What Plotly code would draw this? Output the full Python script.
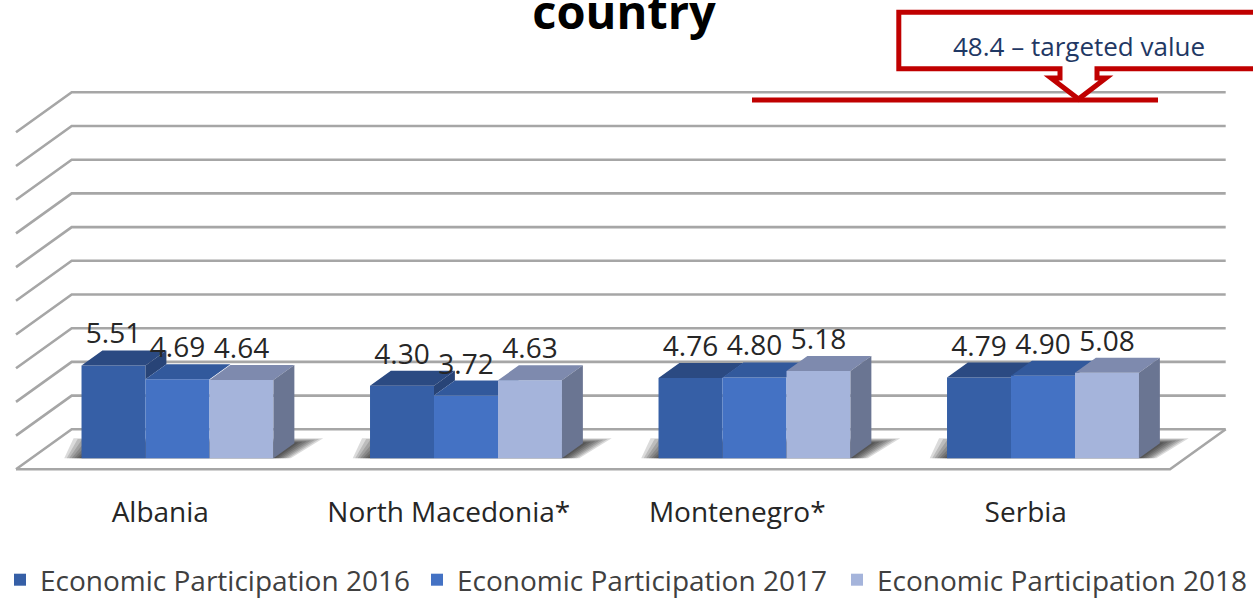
import plotly.graph_objects as go

# ---------------- data ----------------
categories = ["Albania", "North Macedonia*", "Montenegro*", "Serbia"]
series_names = ["Economic Participation 2016",
                "Economic Participation 2017",
                "Economic Participation 2018"]
ep_2016 = [5.51, 4.30, 4.76, 4.79]
ep_2017 = [4.69, 3.72, 4.80, 4.90]
ep_2018 = [4.64, 4.63, 5.18, 5.08]
y_ticks = [0, 2, 4, 6, 8, 10, 12, 14, 16, 18, 20]
title_text = "country"
target_label = "48.4 \u2013 targeted value"

series_values = [ep_2016, ep_2017, ep_2018]

# ---------------- styling / geometry ----------------
W, H = 1253, 599
FONT = "Open Sans"
front_colors = ["#365FA6", "#4472C4", "#A5B4DB"]
top_colors = ["#2B4A82", "#32599C", "#7E8AAE"]
side_colors = ["#284477", "#2E5190", "#6A7592"]
grid_color = "#a6a6a6"

# pixel calibration of the pseudo-3D axes
PX_X0, SLOT_PX = 16.0, 288.5      # front-left floor corner, width of one category slot
PX_Y0, UNIT_PX = 429.3, 16.85     # back-wall base, pixels per value unit
x_range = [(0 - PX_X0) / SLOT_PX, (W - PX_X0) / SLOT_PX]
y_range = [(PX_Y0 - H) / UNIT_PX, PX_Y0 / UNIT_PX]

DX = 55.7 / SLOT_PX               # full floor depth projected (x, slot units)
DY = 40.0 / UNIT_PX               # full floor depth projected (y, value units)
F_FRONT, F_BACK = 0.275, 0.65     # bar front/back depth fractions (from front)
BAR_W = 0.2218
GROUP_C = 0.5067

fx = F_FRONT * DX
base = -DY + F_FRONT * DY
ddx = (F_BACK - F_FRONT) * DX
ddy = (F_BACK - F_FRONT) * DY
n_cat = len(categories)
n_ser = len(series_values)

fig = go.Figure()

# ---------------- background: walls / floor gridlines ----------------
gx, gy = [], []
for t in y_ticks:
    gx += [0, DX, n_cat + DX, None]
    gy += [t - DY, t, t, None]
gx += [0, n_cat, n_cat + DX, None]
gy += [-DY, -DY, 0, None]
fig.add_trace(go.Scatter(x=gx, y=gy, mode="lines",
                         line=dict(color=grid_color, width=2.6),
                         hoverinfo="skip", showlegend=False,
                         xaxis="x", yaxis="y"))

# soft shadows under the column groups
n_layers = 7
for k in range(n_layers):
    e = 0.10 * (n_layers - k) / n_layers
    ey = 0.30 * (n_layers - k) / n_layers
    sx, sy = [], []
    for i in range(n_cat):
        xl = i + GROUP_C + fx - 1.5 * BAR_W
        xr = xl + 3 * BAR_W
        sx += [xl - e * 0.6, xr + e * 0.6, xr + ddx + e, xl + ddx - e,
               xl - e * 0.6, None]
        sy += [base, base, base + ddy + ey, base + ddy + ey, base, None]
    fig.add_trace(go.Scatter(x=sx, y=sy, mode="lines", fill="toself",
                             fillcolor="rgba(0,0,0,0.14)",
                             line=dict(width=0), hoverinfo="skip",
                             showlegend=False, xaxis="x", yaxis="y"))

# ---------------- columns (one overlaid subplot per series for painter order) ----
legend_ids = ["legend", "legend2", "legend3"]
for j, (name, vals) in enumerate(zip(series_names, series_values)):
    xa, ya = f"x{j + 2}", f"y{j + 2}"
    centers = [i + GROUP_C + fx + (j - 1) * BAR_W for i in range(n_cat)]
    fig.add_trace(go.Bar(x=centers, y=vals, base=base, width=BAR_W,
                         name=name, opacity=1,
                         marker=dict(color=front_colors[j], opacity=1,
                                     line=dict(width=0)),
                         xaxis=xa, yaxis=ya, showlegend=True,
                         legend=legend_ids[j],
                         hovertemplate="%{y:.2f}<extra>" + name + "</extra>"))
    tx, ty, sx, sy = [], [], [], []
    for i, (c, v) in enumerate(zip(centers, vals)):
        xl, xr, t = c - BAR_W / 2, c + BAR_W / 2, base + v
        tx += [xl, xr, xr + ddx, xl + ddx, xl, None]
        ty += [t, t, t + ddy, t + ddy, t, None]
        # right side face: only the part not hidden by the neighbouring column
        low = base if j == n_ser - 1 else base + series_values[j + 1][i]
        if low < t:
            sx += [xr, xr + ddx, xr + ddx, xr, xr, None]
            sy += [low, low + ddy, t + ddy, t, low, None]
    fig.add_trace(go.Scatter(x=tx, y=ty, mode="lines", fill="toself",
                             fillcolor=top_colors[j], line=dict(width=0),
                             hoverinfo="skip", showlegend=False,
                             xaxis=xa, yaxis=ya))
    if sx:
        fig.add_trace(go.Scatter(x=sx, y=sy, mode="lines", fill="toself",
                                 fillcolor=side_colors[j], line=dict(width=0),
                                 hoverinfo="skip", showlegend=False,
                                 xaxis=xa, yaxis=ya))

# data labels on the top-most layer
lx, ly, lt = [], [], []
for j, vals in enumerate(series_values):
    for i, v in enumerate(vals):
        lx.append(i + GROUP_C + fx + (j - 1) * BAR_W)
        ly.append(base + v + ddy)
        lt.append(f"{v:.2f}")
fig.add_trace(go.Scatter(x=lx, y=ly, text=lt, mode="text",
                         textposition="top center",
                         textfont=dict(family=FONT, size=28, color="#262626"),
                         hoverinfo="skip", showlegend=False,
                         xaxis="x4", yaxis="y4"))


def px(xp):
    return xp / W


def py(yp):
    return 1 - yp / H


front_edge_paper = (H - (PX_Y0 + DY * UNIT_PX)) / H

axis_common = dict(range=x_range, showgrid=False, zeroline=False,
                   fixedrange=True)
yaxis_common = dict(range=y_range, showgrid=False, zeroline=False,
                    visible=False, fixedrange=True)


def legend_at(x_px):
    return dict(orientation="h", x=px(x_px), xanchor="left",
                y=-6 / H, yanchor="bottom",
                font=dict(family=FONT, size=28, color="#404040"),
                bgcolor="rgba(0,0,0,0)")


layout = dict(
    width=W, height=H,
    margin=dict(l=0, r=0, t=0, b=0, pad=0, autoexpand=False),
    paper_bgcolor="white", plot_bgcolor="rgba(0,0,0,0)",
    barmode="group",
    font=dict(family=FONT, color="#404040"),
    title=dict(text=f"<b>{title_text}</b>",
               font=dict(family=FONT, size=47, color="black"),
               x=624 / W, xanchor="center", y=py(29), yanchor="bottom"),
    xaxis=dict(axis_common, tickmode="array",
               tickvals=[i + 0.5 for i in range(n_cat)],
               ticktext=categories, anchor="free",
               position=front_edge_paper, showline=False, ticks="",
               ticklabelstandoff=24,
               tickfont=dict(family=FONT, size=28, color="#262626")),
    yaxis=yaxis_common,
    legend=legend_at(0),
    legend2=legend_at(417),
    legend3=legend_at(837),
    showlegend=True,
    shapes=[
        dict(type="line", xref="paper", yref="paper",
             x0=px(752), x1=px(1158), y0=py(100), y1=py(100),
             line=dict(color="#C00000", width=5)),
        dict(type="path", xref="paper", yref="paper",
             path=(f"M {px(1270)},{py(12.2)} L {px(898.8)},{py(12.2)} "
                   f"L {px(898.8)},{py(68.7)} L {px(1060)},{py(68.7)} "
                   f"L {px(1060)},{py(78)} L {px(1051)},{py(78)} "
                   f"L {px(1078.5)},{py(99)} L {px(1106)},{py(78)} "
                   f"L {px(1097)},{py(78)} L {px(1097)},{py(68.7)} "
                   f"L {px(1270)},{py(68.7)} Z"),
             line=dict(color="#C00000", width=5), fillcolor="white"),
    ],
    annotations=[
        dict(text=target_label, xref="paper", yref="paper",
             x=px(1079), y=py(46), xanchor="center", yanchor="middle",
             showarrow=False,
             font=dict(family=FONT, size=26, color="#1F3864")),
    ],
)
for k in range(2, 5):
    layout[f"xaxis{k}"] = dict(axis_common, overlaying="x", visible=False)
    layout[f"yaxis{k}"] = dict(yaxis_common, overlaying="y",
                               anchor=f"x{k}")
fig.update_layout(**layout)
for k in range(2, 5):
    fig.update_layout({f"xaxis{k}": dict(anchor=f"y{k}")})

fig.write_html(
    "out.html",
    config={"displayModeBar": False},
    post_script="document.body.style.margin='0';"
                "document.body.style.overflow='hidden';")
